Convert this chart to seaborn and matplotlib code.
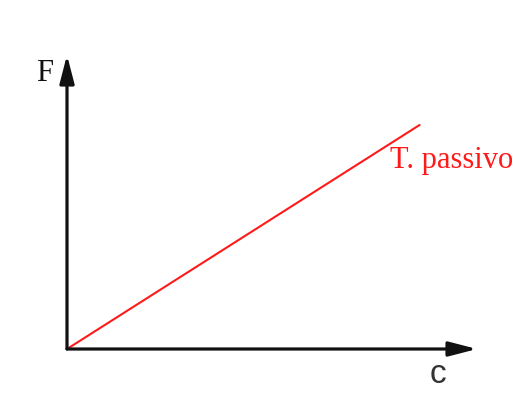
import matplotlib
matplotlib.use("Agg")
import matplotlib.pyplot as plt
import seaborn as sns
import pandas as pd

# Passive tension grows linearly with the variable c
c_values = [0.0, 0.86]
f_values = [0.0, 0.762]
series_label = "T. passivo"
x_label = "c"
y_label = "F"

sns.set_theme(style="white")

W, H = 514, 401
fig = plt.figure(figsize=(W / 100, H / 100), dpi=100)
x0, y0 = 67, 349          # origin (pixels from top-left)
x1, y1 = 477, 55          # arrow tips
ax = fig.add_axes([x0 / W, 1 - y0 / H, (x1 - x0) / W, (y0 - y1) / H])
ax.set_xlim(0, 1)
ax.set_ylim(0, 1)
ax.set_axis_off()

df = pd.DataFrame({"c": c_values, "F": f_values})
sns.lineplot(data=df, x="c", y="F", ax=ax, color="#ff1a1a", lw=1.5)

arrow = dict(arrowstyle="-|>,head_length=0.85,head_width=0.22",
             mutation_scale=20, lw=2.3, color="#111111",
             shrinkA=0, shrinkB=0)
ax.annotate("", xy=(1, 0), xytext=(0, 0), xycoords="axes fraction",
            arrowprops=arrow, annotation_clip=False)
ax.annotate("", xy=(0, 1), xytext=(0, 0), xycoords="axes fraction",
            arrowprops=arrow, annotation_clip=False)

ax.text(0.787, 0.614, series_label, color="#ff1a1a", fontsize=22,
        family="Liberation Serif", ha="left", va="baseline", clip_on=False)
ax.text(-0.075, 0.91, y_label, color="#111111", fontsize=22,
        family="Liberation Serif", ha="left", va="baseline", clip_on=False)
ax.text(0.885, -0.115, x_label, color="#333333", fontsize=24,
        family="Liberation Sans", ha="left", va="baseline", clip_on=False)

fig.savefig("out.png", dpi=100, facecolor="white")
